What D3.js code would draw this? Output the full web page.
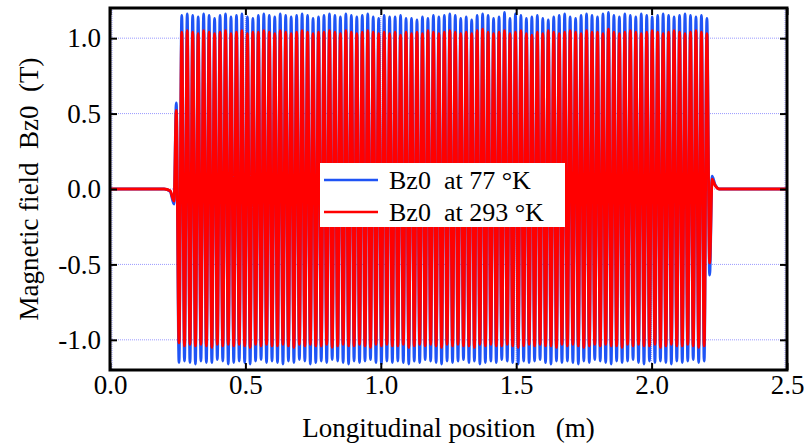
<!DOCTYPE html>
<html>
<head>
<meta charset="utf-8">
<script src="https://cdn.jsdelivr.net/npm/d3@7"></script>
<style>
  body { margin: 0; background: #fff; }
  text { font-family: "Liberation Serif", "Times New Roman", serif; fill: #000; }
</style>
</head>
<body>
<div id="chart"></div>
<script>
// axis ticks
var xTicks = [0, 0.5, 1.0, 1.5, 2.0, 2.5];
var yTicks = [-1.0, -0.5, 0.0, 0.5, 1.0];

// fringe field before the first pole (m, T)
var entryX    = [0, 0.200, 0.222, 0.2365, 0.2448];
var entryBlue = [0, 0, -0.015, -0.10, 0.57];
var entryRed  = [0, 0, -0.012, -0.08, 0.52];

// pole positions: first negative pole and half period (m)
var poleStart = 0.2549;
var poleHalf = 0.0101;

// peak values of each period (T)
var blueTop = [
  1.15,1.16,1.15,1.14,1.16,1.15,1.13,1.15,1.16,1.14,
  1.15,1.16,1.14,1.13,1.15,1.16,1.15,1.14,1.16,1.15,
  1.14,1.15,1.16,1.15,1.13,1.14,1.15,1.16,1.15,1.14,
  1.16,1.15,1.14,1.15,1.16,1.14,1.13,1.15,1.14,1.14,
  1.15,1.13,1.13,1.12,1.14,1.13,1.15,1.14,1.15,1.16,
  1.15,1.13,1.14,1.12,1.15,1.16,1.15,1.13,1.14,1.17,
  1.13,1.16,1.15,1.13,1.14,1.15,1.13,1.12,1.14,1.15,
  1.16,1.14,1.13,1.15,1.16,1.15,1.14,1.16,1.17,1.15,
  1.14,1.16,1.15,1.14,1.16,1.15,1.14,1.15,1.16,1.15,
  1.14,1.15,1.16,1.15,1.14,1.15,1.13];
var blueBottom = [
  -1.15,-1.14,-1.15,-1.16,-1.14,-1.15,-1.15,-1.13,-1.14,-1.16,
  -1.15,-1.14,-1.15,-1.16,-1.14,-1.13,-1.15,-1.14,-1.15,-1.16,
  -1.14,-1.15,-1.13,-1.14,-1.16,-1.15,-1.14,-1.15,-1.13,-1.14,
  -1.15,-1.16,-1.14,-1.15,-1.14,-1.13,-1.15,-1.16,-1.14,-1.15,
  -1.14,-1.15,-1.16,-1.14,-1.15,-1.13,-1.14,-1.15,-1.16,-1.14,
  -1.15,-1.14,-1.13,-1.15,-1.14,-1.16,-1.15,-1.14,-1.15,-1.13,
  -1.14,-1.15,-1.16,-1.14,-1.15,-1.14,-1.13,-1.15,-1.16,-1.14,
  -1.15,-1.14,-1.15,-1.16,-1.14,-1.15,-1.13,-1.14,-1.15,-1.16,
  -1.14,-1.15,-1.14,-1.13,-1.15,-1.16,-1.14,-1.15,-1.14,-1.15,
  -1.16,-1.14,-1.15,-1.14,-1.13,-1.15,-1.14];
var redTop = [
  1.04,1.05,1.04,1.03,1.05,1.04,1.03,1.04,1.05,1.03,
  1.04,1.05,1.03,1.04,1.04,1.05,1.04,1.03,1.05,1.04,
  1.03,1.04,1.05,1.04,1.03,1.04,1.04,1.05,1.04,1.03,
  1.05,1.04,1.03,1.04,1.05,1.04,1.03,1.04,1.03,1.04,
  1.02,1.04,1.03,1.04,1.03,1.05,1.04,1.03,1.04,1.05,
  1.04,1.03,1.04,1.03,1.05,1.06,1.04,1.03,1.04,1.05,
  1.03,1.04,1.05,1.03,1.02,1.04,1.03,1.05,1.04,1.03,
  1.04,1.05,1.04,1.03,1.05,1.04,1.04,1.03,1.06,1.04,
  1.03,1.04,1.05,1.04,1.03,1.04,1.05,1.04,1.03,1.04,
  1.05,1.04,1.03,1.04,1.05,1.04,1.03];
var redBottom = [
  -1.02,-1.04,-1.03,-1.04,-1.03,-1.04,-1.05,-1.03,-1.04,-1.03,
  -1.04,-1.03,-1.04,-1.05,-1.03,-1.04,-1.03,-1.04,-1.04,-1.03,
  -1.04,-1.05,-1.03,-1.04,-1.03,-1.04,-1.04,-1.03,-1.05,-1.04,
  -1.03,-1.04,-1.04,-1.03,-1.04,-1.05,-1.03,-1.04,-1.03,-1.04,
  -1.04,-1.03,-1.05,-1.04,-1.03,-1.04,-1.03,-1.04,-1.05,-1.03,
  -1.04,-1.03,-1.04,-1.04,-1.05,-1.03,-1.04,-1.03,-1.04,-1.04,
  -1.03,-1.04,-1.05,-1.04,-1.03,-1.04,-1.03,-1.04,-1.04,-1.05,
  -1.03,-1.04,-1.03,-1.04,-1.05,-1.04,-1.03,-1.04,-1.03,-1.04,
  -1.04,-1.05,-1.03,-1.04,-1.03,-1.04,-1.04,-1.03,-1.05,-1.04,
  -1.03,-1.04,-1.04,-1.03,-1.04,-1.05,-1.04];

// fringe field after the last pole (m, T)
var exitX    = [2.2143, 2.2235, 2.234, 2.250, 2.5];
var exitBlue = [-0.57, 0.085, 0.03, 0.0, 0];
var exitRed  = [-0.49, 0.065, 0.025, 0.0, 0];

var seriesNames = ["Bz0  at 77 \u00B0K", "Bz0  at 293 \u00B0K"];
var seriesColors = ["#1f54f5", "#ff0000"];

var width = 804, height = 444;
var margin = {left: 110, right: 17, top: 8, bottom: 74};

var svg = d3.select("#chart").append("svg")
    .attr("width", width)
    .attr("height", height);

var x = d3.scaleLinear().domain([0, 2.5]).range([margin.left, width - margin.right]);
var y = d3.scaleLinear().domain([-1.2, 1.2]).range([height - margin.bottom, margin.top]);

function build_series(entry, top, bottom, exit) {
    let pts = [];
    for (let i in entryX) pts.push([entryX[i], entry[i]]);
    for (let i = 0; i < top.length; i++) {
        pts.push([poleStart + 2 * i * poleHalf, bottom[i]]);
        pts.push([poleStart + (2 * i + 1) * poleHalf, top[i]]);
    }
    for (let i in exitX) pts.push([exitX[i], exit[i]]);
    return pts;
}

var series = [
    build_series(entryBlue, blueTop, blueBottom, exitBlue),
    build_series(entryRed, redTop, redBottom, exitRed)
];

// grid
var grid = svg.append("g");
grid.selectAll(".hg").data(yTicks).enter().append("line")
    .attr("x1", x(0)).attr("x2", x(2.5))
    .attr("y1", d => y(d)).attr("y2", d => y(d))
    .attr("stroke", "#9a9aff").attr("stroke-width", 1)
    .attr("stroke-dasharray", "1,1");
grid.selectAll(".vg").data(xTicks).enter().append("line")
    .attr("x1", d => x(d) + (d == 0 ? 2 : d == 2.5 ? -2 : 0))
    .attr("x2", d => x(d) + (d == 0 ? 2 : d == 2.5 ? -2 : 0))
    .attr("y1", y(1.2)).attr("y2", y(-1.2))
    .attr("stroke", "#9a9aff").attr("stroke-width", 1)
    .attr("stroke-dasharray", "1,1");

// curves
var line = d3.line()
    .x(d => x(d[0]))
    .y(d => y(d[1]))
    .curve(d3.curveMonotoneX);

for (let s = 0; s < series.length; s++) {
    svg.append("path")
        .datum(series[s])
        .attr("d", line)
        .attr("fill", "none")
        .attr("stroke", seriesColors[s])
        .attr("stroke-width", 2.9)
        .attr("stroke-linejoin", "round");
}

// axes
var fmt = d => d3.format(".1f")(d).replace("\u2212", "-");
var xb = svg.append("g").attr("transform", "translate(0," + y(-1.2) + ")")
    .call(d3.axisBottom(x).tickValues(xTicks).tickFormat(fmt).tickSize(-7).tickPadding(5));
var xt = svg.append("g").attr("transform", "translate(0," + y(1.2) + ")")
    .call(d3.axisTop(x).tickValues(xTicks).tickFormat("").tickSize(-7));
var yl = svg.append("g").attr("transform", "translate(" + x(0) + ",0)")
    .call(d3.axisLeft(y).tickValues(yTicks).tickFormat(fmt).tickSize(-7).tickPadding(9));
var yr = svg.append("g").attr("transform", "translate(" + x(2.5) + ",0)")
    .call(d3.axisRight(y).tickValues(yTicks).tickFormat("").tickSize(-7));

[xb, xt, yl, yr].forEach(function(g) {
    g.select(".domain").remove();
    g.selectAll(".tick line").attr("stroke", "#000").attr("stroke-width", 2);
    g.selectAll("text").style("font-size", "27px").attr("fill", "#000");
});

// frame
svg.append("rect")
    .attr("x", x(0)).attr("y", y(1.2))
    .attr("width", x(2.5) - x(0)).attr("height", y(-1.2) - y(1.2))
    .attr("fill", "none").attr("stroke", "#000").attr("stroke-width", 3);

// axis titles
svg.append("text")
    .attr("x", (x(0) + x(2.5)) / 2).attr("y", 437)
    .attr("text-anchor", "middle")
    .style("font-size", "27px")
    .style("white-space", "pre")
    .text("Longitudinal position   (m)");

svg.append("text")
    .attr("transform", "translate(38," + y(0) + ") rotate(-90)")
    .attr("text-anchor", "middle")
    .style("font-size", "27px")
    .style("white-space", "pre")
    .text("Magnetic field  Bz0  (T)");

// legend
var legend = svg.append("g").attr("transform", "translate(320,163)");
legend.append("rect")
    .attr("width", 245).attr("height", 64)
    .attr("fill", "#fff");
seriesNames.forEach(function(name, i) {
    let row = legend.append("g").attr("transform", "translate(0," + (17 + i * 32) + ")");
    row.append("line")
        .attr("x1", 4).attr("x2", 58)
        .attr("stroke", seriesColors[i]).attr("stroke-width", 2.5);
    row.append("text")
        .attr("x", 69).attr("y", 9)
        .style("font-size", "26px")
        .style("white-space", "pre")
        .text(name);
});
</script>
</body>
</html>
